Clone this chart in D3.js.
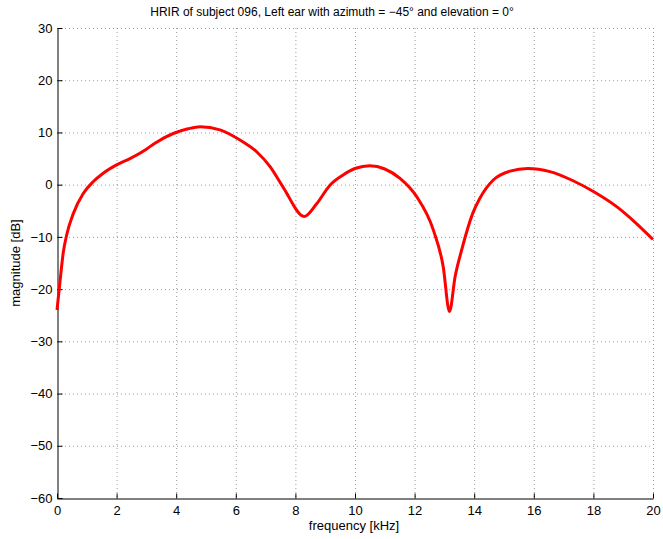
<html>
<head>
<meta charset="utf-8">
<title>HRIR</title>
<script src="https://cdn.jsdelivr.net/npm/d3@7"></script>
<style>
  body { margin: 0; background: #fff; }
  text { font-family: "Liberation Sans", Arial, sans-serif; }
</style>
</head>
<body>
<svg id="chart" width="663" height="539"></svg>
<script>
    // values
    var freq = [0, 0.1, 0.21, 0.33, 0.55, 0.88, 1.22, 1.55, 2.0, 2.45, 3.0, 3.3, 3.9, 4.4, 4.8, 5.47, 6.14, 6.7, 7.15, 7.6, 8.3, 8.72, 9.16, 9.6, 10.0, 10.5, 11.0, 11.51, 12.07, 12.63, 12.96, 13.17, 13.36, 13.58, 13.95, 14.19, 14.64, 15.2, 15.8, 16.54, 17.3, 18.0, 18.78, 19.4, 20];
    var mag = [-24, -18.6, -13.0, -9.5, -5.5, -1.7, 0.6, 2.2, 3.8, 5.0, 6.8, 8.0, 9.8, 10.7, 11.1, 10.5, 8.55, 6.3, 3.45, -0.6, -6.1, -3.6, -0.1, 1.85, 3.1, 3.6, 3.0, 1.2, -2.3, -8.7, -15.7, -24.3, -17.6, -12.5, -5.5, -2.6, 0.9, 2.6, 3.1, 2.5, 0.8, -1.3, -4.2, -7.2, -10.5];
    var xTicks = [0, 2, 4, 6, 8, 10, 12, 14, 16, 18, 20];
    var yTicks = [-60, -50, -40, -30, -20, -10, 0, 10, 20, 30];

    var svg = d3.select("#chart");
    // plot box (note: "top" is taken by window.top, so prefix these)
    var pLeft = 57, pRight = 653, pTop = 28, pBottom = 498;

    var x = d3.scaleLinear().domain([0, 20]).range([pLeft, pRight]);
    var y = d3.scaleLinear().domain([-60, 30]).range([pBottom, pTop]);

    // dotted grid
    var grid = svg.append("g").attr("class", "grid");
    grid.selectAll(".vgrid")
        .data(xTicks.slice(1))
        .enter().append("line")
        .attr("x1", function(d) { return x(d) + 0.5; })
        .attr("x2", function(d) { return x(d) + 0.5; })
        .attr("y1", pTop)
        .attr("y2", pBottom)
        .style("stroke", "#9a9a9a")
        .style("stroke-dasharray", "1,3");
    grid.selectAll(".hgrid")
        .data(yTicks.slice(1))
        .enter().append("line")
        .attr("x1", pLeft)
        .attr("x2", pRight)
        .attr("y1", function(d) { return y(d) + 0.5; })
        .attr("y2", function(d) { return y(d) + 0.5; })
        .style("stroke", "#9a9a9a")
        .style("stroke-dasharray", "1,3");

    // axes, ticks pointing inward
    var xAxis = svg.append("g")
        .attr("transform", "translate(0," + (pBottom + 0.5) + ")")
        .call(d3.axisBottom(x).tickValues(xTicks).tickSizeInner(-5).tickSizeOuter(0).tickPadding(7));
    var yAxis = svg.append("g")
        .attr("transform", "translate(" + (pLeft + 0.5) + ",0)")
        .call(d3.axisLeft(y).tickValues(yTicks).tickSizeInner(-5).tickSizeOuter(0).tickPadding(5)
            .tickFormat(function(d) { return d < 0 ? "\u2212" + Math.abs(d) : d; }));
    [xAxis, yAxis].forEach(function(a) {
        a.selectAll("text").style("font-size", "13px").style("fill", "#000");
        a.selectAll("line").style("stroke", "#000");
        a.select(".domain").style("stroke", "#000");
    });

    // the curve
    var line = d3.line()
        .x(function(d) { return x(d[0]); })
        .y(function(d) { return y(d[1]); })
        .curve(d3.curveMonotoneX);
    svg.append("path")
        .datum(freq.map(function(f, i) { return [f, mag[i]]; }))
        .attr("d", line)
        .style("fill", "none")
        .style("stroke", "#ff0000")
        .style("stroke-width", 3)
        .style("stroke-linejoin", "round");

    // labels
    svg.append("text")
        .attr("x", 332)
        .attr("y", 16)
        .attr("text-anchor", "middle")
        .style("font-size", "12px")
        .text("HRIR of subject 096, Left ear with azimuth = \u221245\u00b0 and elevation = 0\u00b0");
    svg.append("text")
        .attr("x", 354)
        .attr("y", 530)
        .attr("text-anchor", "middle")
        .style("font-size", "13px")
        .text("frequency [kHz]");
    svg.append("text")
        .attr("transform", "translate(20," + ((pTop + pBottom) / 2) + ") rotate(-90)")
        .attr("text-anchor", "middle")
        .style("font-size", "13px")
        .text("magnitude [dB]");
</script>
</body>
</html>
